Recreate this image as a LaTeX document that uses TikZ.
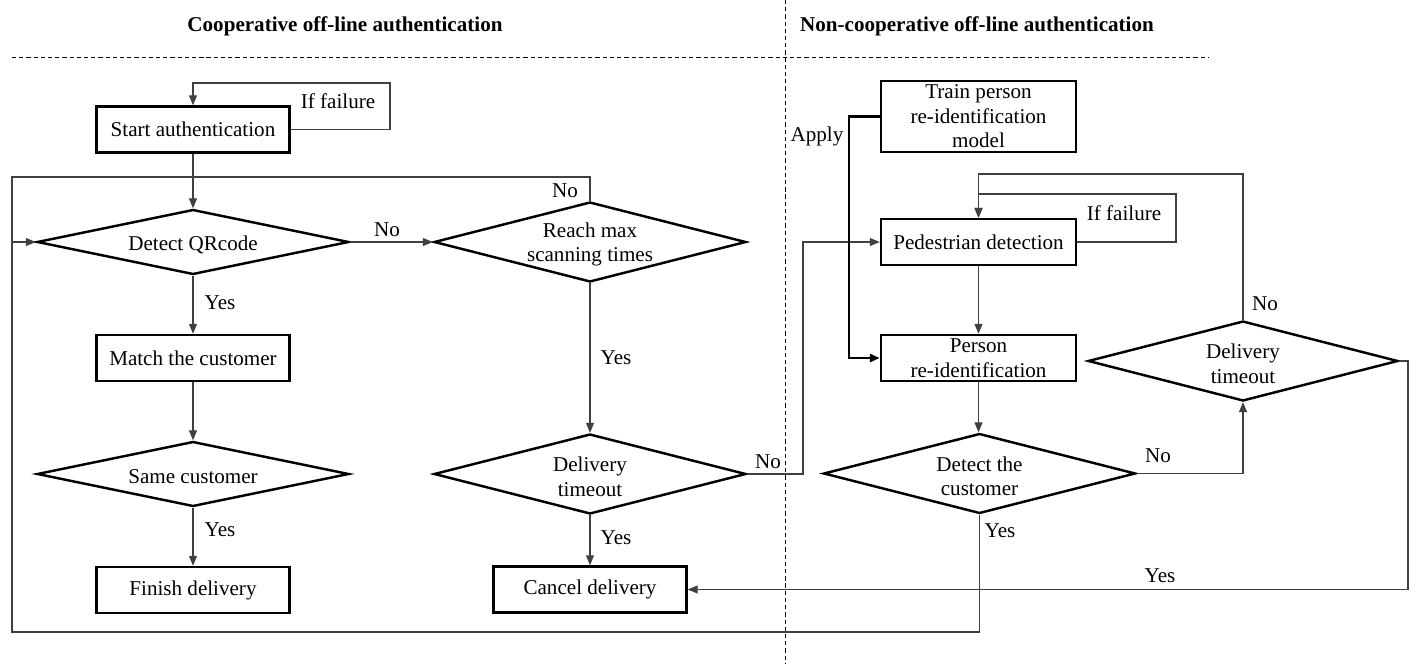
\documentclass[tikz,border=0pt]{standalone}
\usepackage{fontspec}
\setmainfont{Liberation Serif}
\usetikzlibrary{arrows.meta,shapes.geometric}
\tikzset{
	txt/.style={font=\fontsize{12}{14}\selectfont},
	box/.style={txt, draw, line width=1.4pt, minimum width=3.86cm, minimum height=0.92cm, inner sep=0pt, align=center},
	decision/.style={draw, diamond, line width=1.4pt, minimum width=6.24cm, minimum height=#1, inner sep=0pt},
	decision/.default=1.6cm,
	link/.style={line width=0.6pt, color=black!75},
	arrow/.style={link, -{Triangle[length=2mm,width=1.6mm]}},
	divider/.style={line width=0.5pt, dash pattern=on 2.4pt off 1.7pt},
}

\begin{document}
\begin{tikzpicture}[x=0.02cm, y=-0.02cm]
			%%%%% START %%%%%
			\useasboundingbox (0, 0) rectangle (1417, 663);
			
			\node[txt, font=\fontsize{12}{14}\selectfont\bfseries] (headA) at (345, 26) {Cooperative off-line authentication};
			\node[txt, font=\fontsize{12}{14}\selectfont\bfseries] (headB) at (977, 26) {Non-cooperative off-line authentication};
			\draw[divider] (12, 57) -- (1208, 57);
			
			\node[box] (start) at (193, 129.5) {Start authentication};
			\node[decision=1.3cm, label={[txt, yshift=-1.5]center:Detect QRcode}] (qr) at (193, 242) {};
			\node[box] (match) at (193, 358) {Match the customer};
			\node[decision=1.3cm, label={[txt, yshift=-1.5]center:Same customer}] (same) at (193, 474) {};
			\node[box] (finish) at (193, 590) {Finish delivery};
			
			\node[decision, label={[txt, align=center, yshift=-1.5]center:Reach max\\scanning times}] (reach) at (590, 242) {};
			\node[decision, label={[txt, align=center, yshift=-1.5]center:Delivery\\timeout}] (timeoutL) at (590, 474) {};
			\node[box] (cancel) at (590, 589.5) {Cancel delivery};
			
			\node[box, minimum height=1.42cm, minimum width=3.9cm] (train) at (978.5, 116.5) {Train person\\re-identification\\model};
			\node[box, minimum width=3.9cm] (ped) at (978.5, 242) {Pedestrian detection};
			\node[box, minimum width=3.9cm] (reid) at (978.5, 358) {Person\\re-identification};
			\node[decision, label={[txt, align=center, yshift=-1.5]center:Detect the\\customer}] (detcust) at (979.5, 473.5) {};
			\node[decision, minimum width=6.2cm, label={[txt, align=center, yshift=-1.5]center:Delivery\\timeout}] (timeoutR) at (1243, 361) {};
			
			\draw[arrow] (start.east) -| (390, 83) -| (start.north);
			\node[txt] (failA) at (338, 101) {If failure};
			\draw[arrow] (start) -- (qr);
			\draw[arrow] (qr.east) -- (reach.west);
			\node[txt] (noA) at (387, 230) {No};
			\draw[arrow] (reach.north) |- (12, 177) |- (qr.west);
			\node[txt] (noB) at (565, 191) {No};
			\draw[arrow] (qr) -- (match);
			\node[txt] (yesA) at (220, 303) {Yes};
			\draw[arrow] (match) -- (same);
			\draw[arrow] (same) -- (finish);
			\node[txt] (yesB) at (220, 530) {Yes};
			
			\draw[arrow] (reach) -- (timeoutL);
			\node[txt] (yesC) at (616, 358) {Yes};
			\draw[arrow] (timeoutL) -- (cancel);
			\node[txt] (yesD) at (616, 538) {Yes};
			\draw[arrow] (timeoutL.east) -- (803, 474) |- (ped.west);
			\node[txt] (noC) at (768, 462) {No};
			
			\draw[arrow, color=black, line width=1.4pt] (train.west) -- (849, 116.5) |- (reid.west);
			\node[txt] (apply) at (817, 136) {Apply};
			\draw[arrow] (ped.east) -| (1176, 194) -| (ped.north);
			\node[txt] (failB) at (1124, 213) {If failure};
			\draw[arrow] (timeoutR.north) |- (978.5, 174) -- (ped.north);
			\node[txt] (noD) at (1265, 304) {No};
			\draw[arrow] (ped) -- (reid);
			\draw[arrow] (reid.south) -- (reid.south |- detcust.north);
			\draw[arrow] (detcust.east) -| (timeoutR.south);
			\node[txt] (noE) at (1158, 456) {No};
			\draw[arrow] (timeoutR.east) -- (1408, 361) |- (cancel.east);
			\node[txt] (yesE) at (1160, 576) {Yes};
			\draw[link] (detcust.south) |- (12, 632) -- (12, 242);
			\node[txt] (yesF) at (1000, 531) {Yes};
			
			\draw[divider] (785, 0) -- (785, 663);
			%%%%% END %%%%%
		\end{tikzpicture}
\end{document}
